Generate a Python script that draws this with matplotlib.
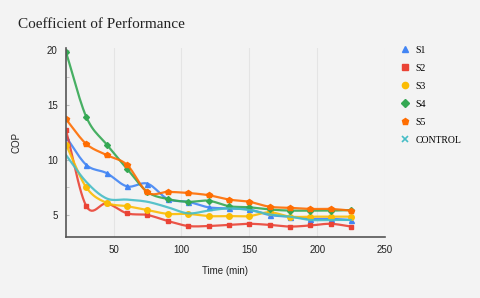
import numpy as np
import matplotlib
matplotlib.use('Agg')
import matplotlib.pyplot as plt
from matplotlib.lines import Line2D

time = [15, 30, 45, 60, 75, 90, 105, 120, 135, 150, 165, 180, 195, 210, 225]
s1 = [12.1, 9.55, 8.8, 7.6, 7.85, 6.45, 6.2, 5.7, 5.6, 5.5, 5.0, 4.85, 4.65, 4.65, 4.55]
s2 = [12.7, 5.8, 6.05, 5.15, 5.0, 4.45, 4.0, 4.0, 4.1, 4.2, 4.1, 3.95, 4.05, 4.2, 3.95]
s3 = [11.4, 7.5, 6.1, 5.8, 5.45, 5.1, 5.1, 4.9, 4.9, 4.9, 5.25, 4.85, 4.85, 4.85, 4.85]
s4 = [19.8, 13.9, 11.4, 9.2, 7.1, 6.45, 6.2, 6.3, 5.8, 5.7, 5.5, 5.4, 5.4, 5.4, 5.45]
s5 = [13.7, 11.45, 10.45, 9.55, 7.05, 7.1, 7.0, 6.8, 6.4, 6.2, 5.75, 5.65, 5.55, 5.55, 5.4]
control = [10.45, 8.0, 6.5, 6.4, 6.2, 5.7, 5.15, 5.4, 5.6, 5.45, 5.05, 4.85, 4.55, 4.55, 4.55]

labels = ['S1', 'S2', 'S3', 'S4', 'S5', 'CONTROL']
colors = ['#4285F4', '#EA4335', '#FBBC04', '#34A853', '#FF6D01', '#46BDC6']
markers = ['^', 's', 'o', 'D', 'p', 'x']
msizes = [3.6, 3.4, 4.0, 3.0, 4.0, 0]


def smooth(x, y, n=12):
    # catmull-rom curve through the points, just for drawing
    x = np.asarray(x, float)
    y = np.asarray(y, float)
    px = np.concatenate([[2 * x[0] - x[1]], x, [2 * x[-1] - x[-2]]])
    py = np.concatenate([[2 * y[0] - y[1]], y, [2 * y[-1] - y[-2]]])
    xs, ys = [], []
    t = np.linspace(0, 1, n, endpoint=False)
    for i in range(1, len(px) - 2):
        for arr, out in ((px, xs), (py, ys)):
            p0, p1, p2, p3 = arr[i - 1], arr[i], arr[i + 1], arr[i + 2]
            out.extend(0.5 * (2 * p1 + (-p0 + p2) * t
                              + (2 * p0 - 5 * p1 + 4 * p2 - p3) * t ** 2
                              + (-p0 + 3 * p1 - 3 * p2 + p3) * t ** 3))
    xs.append(x[-1])
    ys.append(y[-1])
    return xs, ys


bg = '#f3f3f3'
fig = plt.figure(figsize=(4.8, 2.98), dpi=100, facecolor=bg)
ax = fig.add_axes([66 / 480, 1 - 237 / 298, 319 / 480, 189 / 298], facecolor=bg)

series = [s1, s2, s3, s4, s5, control]
for vals, c, m, ms in zip(series, colors, markers, msizes):
    sx, sy = smooth(time, vals)
    ax.plot(sx, sy, color=c, lw=1.6, alpha=0.9, solid_capstyle='round')
    if ms > 0:
        ax.plot(time, vals, ls='none', marker=m, color=c, ms=ms, mec=c)

ax.set_xlim(15, 250)
ax.set_ylim(3, 20.18)
ax.set_xticks([50, 100, 150, 200, 250])
ax.set_yticks([5, 10, 15, 20])
ax.set_yticks([7.5, 12.5, 17.5], minor=True)
ax.grid(axis='x', color='#e4e4e4', lw=0.8)
ax.set_axisbelow(True)
for s in ['top', 'right']:
    ax.spines[s].set_visible(False)
for s in ['left', 'bottom']:
    ax.spines[s].set_color('#555555')
    ax.spines[s].set_linewidth(1.2)
ax.tick_params(axis='both', length=0, labelsize=7, labelcolor='#222222', pad=6,
               labelfontfamily='Liberation Sans')
ax.tick_params(axis='y', which='both', direction='in', length=2, color='#bbbbbb')

ax.set_xlabel('Time (min)', fontsize=7, family='Liberation Sans', color='#222222', labelpad=8)
ax.set_ylabel('COP', fontsize=7, family='Liberation Sans', color='#222222', labelpad=18)

fig.text(18 / 480, 1 - 25 / 298, 'Coefficient of Performance', fontsize=11,
         family='Liberation Serif', color='#222222', va='center')

handles = [Line2D([], [], ls='none', marker=m, color=c, ms=4.5 if m != 'D' else 3.8,
                  mew=1.2 if m == 'x' else 1)
           for m, c in zip(markers, colors)]
leg = fig.legend(handles, labels, loc='upper left', bbox_to_anchor=(396 / 480, 1 - 42 / 298),
                 frameon=False, prop={'family': 'Liberation Serif', 'size': 7},
                 handlelength=1.0, handletextpad=0.6, labelspacing=0.92, borderaxespad=0)

fig.savefig('out.png', dpi=100, facecolor=bg)
